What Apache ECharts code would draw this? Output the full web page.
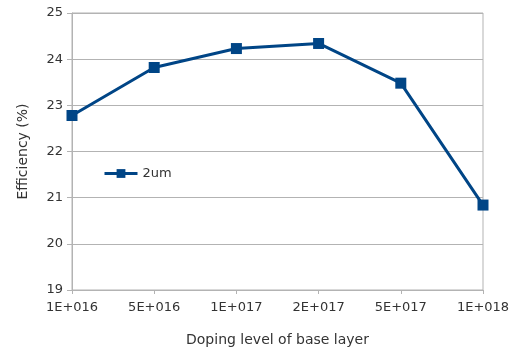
<!DOCTYPE html>
<html><head><meta charset="utf-8">
<script src="https://cdn.jsdelivr.net/npm/echarts@6/dist/echarts.min.js"></script>
<style>html,body{margin:0;padding:0;background:#fff}#c{width:517px;height:350px}</style>
</head><body><div id="c"></div>
<script>
var categories = ['1E+016','5E+016','1E+017','2E+017','5E+017','1E+018'];
var values2um = [22.78, 23.82, 24.23, 24.34, 23.48, 20.84];
var yTicks = {min: 19, max: 25, interval: 1};
var seriesName = '2um';
var xName = 'Doping level of base layer';
var yName = 'Efficiency (%)';

var chart = echarts.init(document.getElementById('c'), null, {renderer: 'canvas'});
var gray = '#b3b3b3';
var txt = '#333333';
var font = 'DejaVu Sans';
chart.setOption({
  animation: false,
  backgroundColor: '#fff',
  grid: {left: 72, right: 34, top: 13, bottom: 60, show: true, borderColor: gray, borderWidth: 1,
         containLabel: false, outerBoundsMode: 'none'},
  legend: {
    data: [seriesName], left: 98, top: 162, itemWidth: 33, itemHeight: 11, itemGap: 4,
    lineStyle: {width: 3},
    textStyle: {fontFamily: font, fontSize: 13, color: txt}
  },
  xAxis: {
    type: 'category', data: categories, boundaryGap: false,
    name: xName, nameLocation: 'middle', nameGap: 43,
    nameTextStyle: {fontFamily: font, fontSize: 14, color: txt},
    axisLine: {lineStyle: {color: gray}},
    axisTick: {show: true, length: 4, lineStyle: {color: gray}},
    axisLabel: {fontFamily: font, fontSize: 13, color: txt, margin: 11},
    splitLine: {show: false}
  },
  yAxis: {
    type: 'value', min: yTicks.min, max: yTicks.max, interval: yTicks.interval,
    name: yName, nameLocation: 'middle', nameGap: 42,
    nameTextStyle: {fontFamily: font, fontSize: 14, color: txt},
    axisLine: {show: true, lineStyle: {color: gray}},
    axisTick: {show: true, length: 5, lineStyle: {color: gray}},
    axisLabel: {fontFamily: font, fontSize: 13, color: txt, margin: 9},
    splitLine: {lineStyle: {color: gray}}
  },
  series: [{
    name: seriesName, type: 'line', data: values2um,
    symbol: 'rect', symbolSize: 11,
    lineStyle: {color: '#004586', width: 3},
    itemStyle: {color: '#004586'}
  }]
});
</script></body></html>
